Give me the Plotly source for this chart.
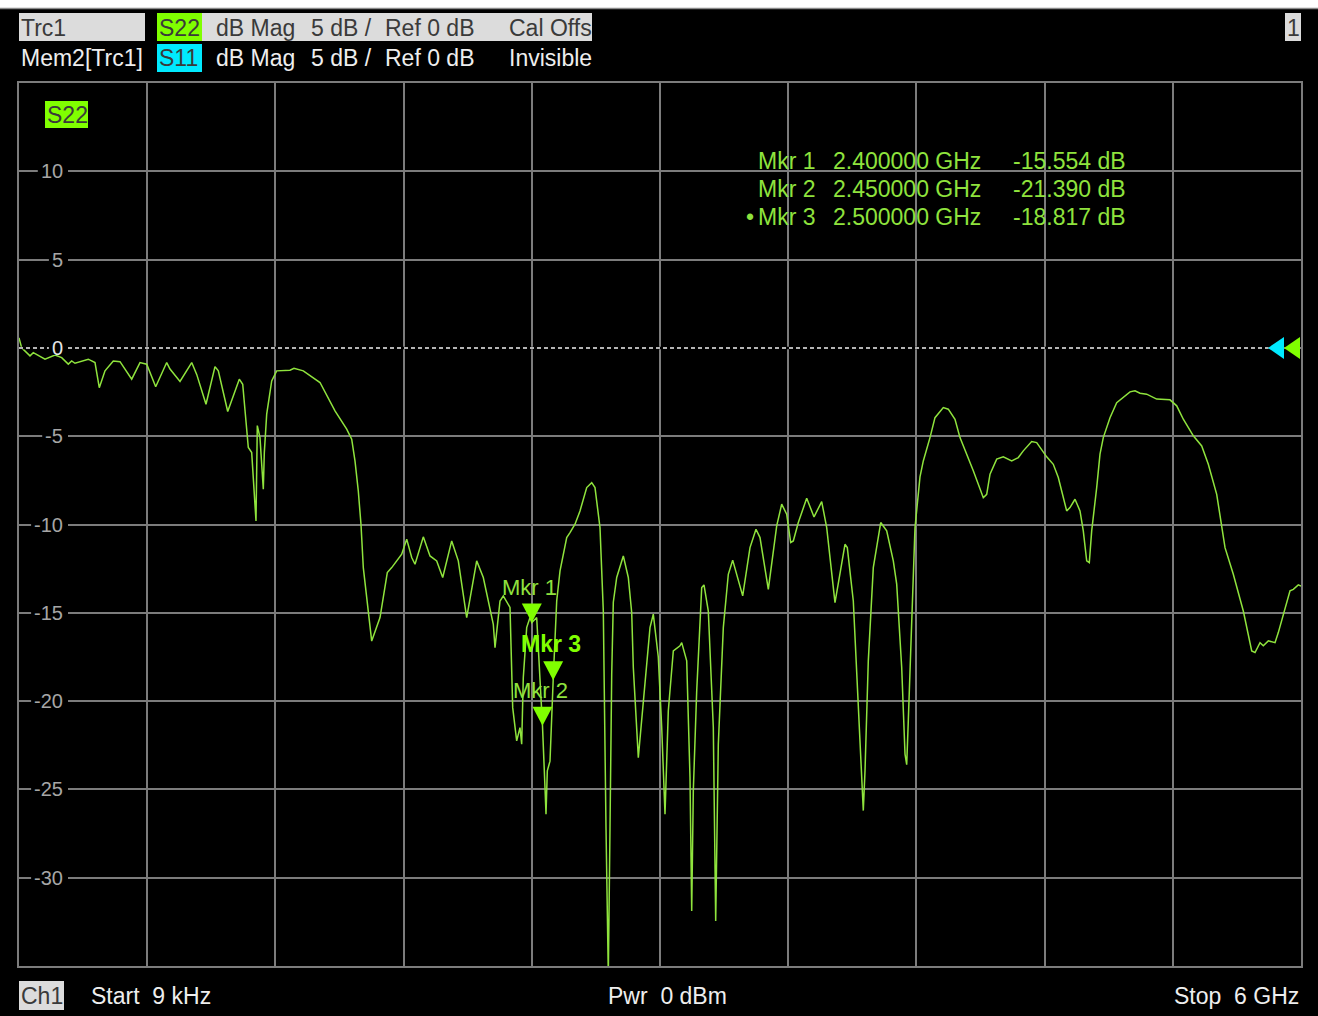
import plotly.graph_objects as go

# ---------------- data ----------------
freq_ghz = [
    0.000009, 0.0126, 0.0515, 0.0669, 0.1217, 0.1685, 0.1998, 0.2307, 0.2466, 0.2621,
    0.3243, 0.3557, 0.3758, 0.4025, 0.4413, 0.4727, 0.5275, 0.5663, 0.5977, 0.6398,
    0.6913, 0.7067, 0.7535, 0.8083, 0.8317, 0.8752, 0.9173, 0.9328, 0.9768, 1.0311,
    1.0470, 1.0657, 1.0732, 1.0891, 1.1092, 1.1153, 1.1279, 1.1434, 1.1481, 1.1593,
    1.1827, 1.2061, 1.2683, 1.2871, 1.3306, 1.4087, 1.4789, 1.5337, 1.5571, 1.5725,
    1.5880, 1.6006, 1.6114, 1.6507, 1.6896, 1.7237, 1.7443, 1.7911, 1.8145, 1.8379,
    1.8534, 1.8922, 1.9236, 1.9549, 1.9830, 2.0251, 2.0560, 2.0953, 2.1421, 2.1730,
    2.2198, 2.2278, 2.2512, 2.2666, 2.2980, 2.3106, 2.3293, 2.3448, 2.3527, 2.3602,
    2.3761, 2.3916, 2.4000, 2.4229, 2.4500, 2.4618, 2.4665, 2.4726, 2.4852, 2.5000,
    2.5166, 2.5321, 2.5634, 2.5788, 2.6022, 2.6256, 2.6570, 2.6804, 2.6958, 2.7192,
    2.7347, 2.7473, 2.7581, 2.7660, 2.7740, 2.7815, 2.7974, 2.8283, 2.8517, 2.8676,
    2.8751, 2.8985, 2.9219, 2.9298, 2.9532, 2.9686, 2.9920, 3.0080, 3.0234, 3.0389,
    3.0623, 3.0936, 3.1016, 3.1250, 3.1404, 3.1484, 3.1559, 3.1718, 3.1952, 3.2059,
    3.2261, 3.2495, 3.2607, 3.2729, 3.2963, 3.3197, 3.3402, 3.3870, 3.4212, 3.4493,
    3.4680, 3.5069, 3.5462, 3.5696, 3.5930, 3.6117, 3.6239, 3.6473, 3.6866, 3.7208,
    3.7568, 3.7802, 3.8190, 3.8658, 3.8766, 3.9047, 3.9361, 3.9515, 3.9595, 3.9749,
    3.9983, 4.0330, 4.0610, 4.0919, 4.1078, 4.1312, 4.1467, 4.1546, 4.1621, 4.1780,
    4.1934, 4.2168, 4.2323, 4.2636, 4.2870, 4.3259, 4.3493, 4.3806, 4.4040, 4.4663,
    4.5131, 4.5290, 4.5445, 4.5758, 4.6067, 4.6460, 4.6769, 4.7003, 4.7396, 4.7630,
    4.8098, 4.8407, 4.8641, 4.9034, 4.9188, 4.9423, 4.9657, 4.9811, 4.9970, 5.0092,
    5.0204, 5.0438, 5.0593, 5.0747, 5.1061, 5.1374, 5.1683, 5.1997, 5.2231, 5.2465,
    5.2778, 5.2933, 5.3246, 5.3869, 5.4183, 5.4492, 5.4960, 5.5353, 5.5662, 5.6055,
    5.6444, 5.6832, 5.7300, 5.7693, 5.7848, 5.8082, 5.8236, 5.8470, 5.8784, 5.8938,
    5.9252, 5.9486, 5.9640, 5.9874, 6.0000,
]
s22_db = [
    0.57, 0.0, -0.45, -0.27, -0.64, -0.4, -0.55, -0.92, -0.74, -0.87,
    -0.64, -0.83, -2.25, -1.3, -0.74, -0.78, -1.77, -0.83, -0.92, -2.2,
    -0.83, -1.2, -1.9, -0.83, -1.5, -3.19, -1.06, -1.3, -3.6, -1.77,
    -2.06, -4.7, -5.64, -5.93, -9.8, -4.4, -5.08, -8.0, -5.93, -3.75,
    -1.87, -1.3, -1.26, -1.15, -1.3, -1.96, -3.57, -4.6, -5.17, -6.4,
    -8.1, -10.0, -12.44, -16.6, -15.27, -12.72, -12.44, -11.68, -10.83, -11.87,
    -12.25, -10.7, -11.78, -12.06, -13.0, -10.93, -12.06, -15.27, -12.06, -13.0,
    -15.65, -16.97, -14.33, -14.04, -14.7, -20.37, -22.25, -21.5, -22.44, -18.67,
    -15.84, -15.27, -15.554, -15.27, -21.39, -24.9, -26.4, -23.95, -23.4, -18.817,
    -14.33, -12.63, -10.74, -10.46, -9.98, -9.23, -7.91, -7.63, -7.91, -10.18,
    -14.9, -27.2, -35.5, -27.2, -18.5, -14.4, -13.0, -11.78, -13.0, -15.0,
    -18.1, -23.2, -19.99, -18.67, -15.84, -15.08, -17.5, -21.5, -26.4, -20.55,
    -17.16, -16.87, -16.69, -17.72, -24.33, -31.88, -25.08, -19.42, -13.57, -13.42,
    -14.9, -21.5, -32.45, -22.44, -15.84, -12.82, -12.02, -14.04, -11.31, -10.27,
    -10.74, -13.67, -10.08, -8.85, -9.42, -11.02, -10.93, -9.89, -8.51, -9.57,
    -8.7, -10.18, -14.42, -11.12, -11.31, -14.33, -22.44, -26.2, -23.95, -17.72,
    -12.44, -9.89, -10.36, -12.06, -13.38, -18.1, -23.0, -23.6, -21.12, -15.0,
    -10.18, -7.3, -6.4, -5.08, -3.95, -3.38, -3.47, -4.04, -5.08, -6.96,
    -8.48, -8.29, -7.15, -6.3, -6.17, -6.4, -6.21, -5.83, -5.3, -5.36,
    -6.17, -6.59, -7.34, -9.23, -9.04, -8.57, -9.23, -10.36, -12.06, -12.16,
    -10.36, -7.91, -6.02, -5.08, -3.95, -3.1, -2.81, -2.49, -2.43, -2.57,
    -2.62, -2.72, -2.9, -2.94, -3.28, -4.04, -4.98, -5.55, -6.59, -8.29,
    -11.31, -12.82, -14.9, -17.16, -17.25, -16.69, -16.87, -16.59, -16.69, -16.12,
    -14.7, -13.76, -13.67, -13.42, -13.48,
]

mkr_names = ["Mkr 1", "Mkr 2", "Mkr 3"]
mkr_freq_ghz = [2.400, 2.450, 2.500]
mkr_db = [-15.554, -21.390, -18.817]
active_mkr = "Mkr 3"

y_tick_vals = [10, 5, 0, -5, -10, -15, -20, -25, -30]
x_start_ghz, x_stop_ghz = 0.000009, 6.0
y_min, y_max, y_div = -35, 15, 5

header_row1 = ["Trc1", "S22", "dB Mag", "5 dB /", "Ref 0 dB", "Cal Offs"]
header_row2 = ["Mem2[Trc1]", "S11", "dB Mag", "5 dB /", "Ref 0 dB", "Invisible"]
footer = ["Ch1", "Start\u00a0\u00a09 kHz", "Pwr\u00a0\u00a00 dBm", "Stop\u00a0\u00a06 GHz"]

# ---------------- layout helpers ----------------
W, H = 1318, 1016
L, R, T, B = 19, 17, 83, 50
PW, PH = W - L - R, H - T - B


def xp(px):
    return (px - L) / PW


def yp(py):
    return (H - B - py) / PH


GRID = "#7c7c7c"
GREEN = "#8fe33d"
LIME = "#80ff00"
CYAN = "#00eaff"
LIGHT = "#dcdcdc"
DARK = "#3a3a3a"
WHITE = "#eeeeee"
TICKC = "#a6a6a6"
FONT = "Liberation Sans, Arial, sans-serif"

shapes = []
annotations = []


def box(x0, x1, y0, y1, color):
    shapes.append(dict(type="rect", xref="paper", yref="paper",
                       x0=xp(x0), x1=xp(x1), y0=yp(y1), y1=yp(y0),
                       fillcolor=color, line=dict(width=0), layer="above"))


def text(s, x, y, color, size=23, anchor="left", bold=False):
    if bold:
        s = "<b>" + s + "</b>"
    annotations.append(dict(text=s, xref="paper", yref="paper", x=xp(x), y=yp(y),
                            xanchor=anchor, yanchor="middle", showarrow=False,
                            font=dict(family=FONT, size=size, color=color), borderpad=0))


fig = go.Figure()
fig.add_trace(go.Scatter(x=freq_ghz, y=s22_db, mode="lines",
                         line=dict(color=GREEN, width=1.5), hoverinfo="skip",
                         showlegend=False))

# white strip at the very top of the screenshot
shapes.append(dict(type="rect", xref="paper", yref="paper", x0=-0.05, x1=1.05,
                   y0=yp(8), y1=yp(-2), fillcolor="#ffffff", line=dict(width=0), layer="above"))
shapes.append(dict(type="line", xref="paper", yref="paper", x0=-0.05, x1=1.05,
                   y0=yp(8.5), y1=yp(8.5), line=dict(color="#8a8a8a", width=1.5), layer="above"))

# header boxes
box(19, 145, 13, 41, LIGHT)
box(157, 202, 13, 41, LIME)
box(202, 592, 13, 41, LIGHT)
box(157, 202, 44, 72, CYAN)
box(1285, 1301, 13, 41, LIGHT)
box(45, 88, 101, 128, LIME)
box(19, 64, 981, 1010, LIGHT)

hx = [20, 158, 215, 310, 384, 508]
for i, s in enumerate(header_row1):
    text(s, hx[i], 28, DARK)
for i, s in enumerate(header_row2):
    text(s, hx[i], 58, DARK if i == 1 else WHITE)
text("1", 1293, 28, DARK, anchor="center")
text("S22", 46, 115, DARK)

# footer
text(footer[0], 20, 996, DARK)
text(footer[1], 90, 996, WHITE)
text(footer[2], 607, 996, WHITE)
text(footer[3], 1300, 996, WHITE, anchor="right")

# marker table
rows_y = [161, 189, 217]
for i, name in enumerate(mkr_names):
    text(name, 757, rows_y[i], GREEN)
    text(f"{mkr_freq_ghz[i]:.6f} GHz", 832, rows_y[i], GREEN)
    text(f"{mkr_db[i]:.3f} dB", 1127, rows_y[i], GREEN, anchor="right")
    if name == active_mkr:
        text("\u2022", 755, rows_y[i], GREEN, anchor="right")

# reference line (dashed) over the 0 dB grid line
shapes.append(dict(type="line", xref="paper", yref="y", x0=0, x1=xp(1268), y0=0, y1=0,
                   line=dict(color="#000000", width=2.5), layer="above"))
shapes.append(dict(type="line", xref="paper", yref="y", x0=0, x1=xp(1268), y0=0, y1=0,
                   line=dict(color="#f0f0f0", width=1.5, dash="4px,3px"), layer="above"))

# y tick labels inside the plot: black gap in the grid behind each label
for v in y_tick_vals:
    s = str(v)
    w = sum(11.1 if c.isdigit() else 6.7 for c in s)
    shapes.append(dict(type="path", xref="paper", yref="y", xsizemode="pixel", ysizemode="pixel",
                       xanchor=xp(64), yanchor=v,
                       path=f"M {-w - 4:.1f},-7 L 4,-7 L 4,7 L {-w - 4:.1f},7 Z",
                       fillcolor="#000000", line=dict(width=0), layer="above"))
    annotations.append(dict(text=s, xref="paper", yref="y", x=xp(64), y=v,
                            xanchor="right", yanchor="middle", showarrow=False, borderpad=0,
                            font=dict(family=FONT, size=20,
                                      color="#e6e6e6" if v == 0 else TICKC)))

# reference arrows at the right edge
shapes.append(dict(type="path", xref="paper", yref="y", xsizemode="pixel", ysizemode="pixel",
                   xanchor=1, yanchor=0, path="M -17,11 L -17,-11 L -33,0 Z",
                   fillcolor=CYAN, line=dict(width=0), layer="above"))
shapes.append(dict(type="path", xref="paper", yref="y", xsizemode="pixel", ysizemode="pixel",
                   xanchor=1, yanchor=0, path="M -1,11 L -1,-11 L -17,0 Z",
                   fillcolor=LIME, line=dict(width=0), layer="above"))

# markers on the trace
for i, name in enumerate(mkr_names):
    shapes.append(dict(type="path", xref="x", yref="y", xsizemode="pixel", ysizemode="pixel",
                       xanchor=mkr_freq_ghz[i], yanchor=mkr_db[i],
                       path="M -10,19 L 10,19 L 0,0 Z",
                       fillcolor=LIME, line=dict(width=0), layer="above"))
    bold = name == active_mkr
    annotations.append(dict(text=("<b>%s</b>" % name) if bold else name,
                            xref="x", yref="y", x=mkr_freq_ghz[i], y=mkr_db[i],
                            xanchor="center", yanchor="bottom", yshift=22, xshift=-2,
                            showarrow=False, borderpad=0,
                            font=dict(family=FONT, size=22 if not bold else 23,
                                      color=LIME if bold else GREEN)))

fig.update_layout(
    width=W, height=H,
    margin=dict(l=L, r=R, t=T, b=B, pad=0),
    paper_bgcolor="#000000", plot_bgcolor="#000000",
    showlegend=False,
    shapes=shapes, annotations=annotations,
    xaxis=dict(range=[x_start_ghz, x_stop_ghz], tick0=x_start_ghz,
               dtick=(x_stop_ghz - x_start_ghz) / 10, showticklabels=False,
               ticks="", showgrid=True, gridcolor=GRID, gridwidth=1.5,
               zeroline=False, showline=True, linecolor=GRID, linewidth=1.5, mirror=True),
    yaxis=dict(range=[y_min, y_max], tick0=y_min, dtick=y_div, showticklabels=False,
               ticks="", showgrid=True, gridcolor=GRID, gridwidth=1.5,
               zeroline=False, showline=True, linecolor=GRID, linewidth=1.5, mirror=True),
)

fig.write_html("out.html", config={"displayModeBar": False},
               post_script="document.body.style.margin='0';document.body.style.background='#000';")
